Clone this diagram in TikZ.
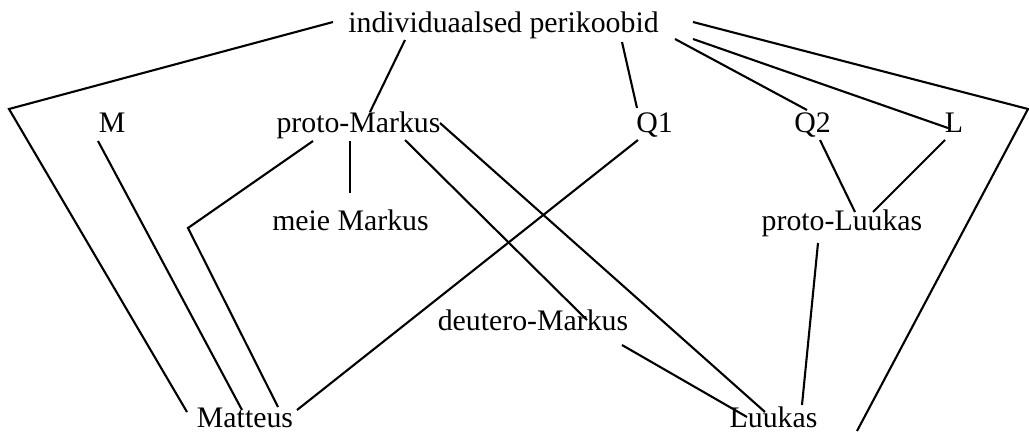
\documentclass[tikz,border=0pt]{standalone}
\usepackage{fontspec}
\setmainfont{Liberation Serif}
\begin{document}
\begin{tikzpicture}[x=1pt,y=-1pt,
  lbl/.style={anchor=base,inner sep=0pt,font=\fontsize{29.8}{36}\selectfont},
  conn/.style={line width=2.1pt,line join=miter}]
\useasboundingbox (0,0) rectangle (1029,432);
\node[lbl] (ind) at (503.5,32) {individuaalsed perikoobid};
\node[lbl] (M) at (112,132) {M};
\node[lbl] (pM) at (358.5,132) {proto-Markus};
\node[lbl] (Q1) at (654.5,132) {Q1};
\node[lbl] (Q2) at (812.5,132) {Q2};
\node[lbl] (Lq) at (954,132) {L};
\node[lbl] (mM) at (350.5,230) {meie Markus};
\node[lbl] (pL) at (842,230) {proto-Luukas};
\node[lbl] (dM) at (533,330) {deutero-Markus};
\node[lbl] (Mt) at (245,427) {Matteus};
\node[lbl] (Lk) at (773.5,427) {Luukas};
\coordinate (lc) at (9,109);
\coordinate (rc) at (1028,109);
\coordinate (mc) at (188,228);
% connectors
\draw[conn] ([shift={(-170.5,-10)}]ind.base) -- (lc) -- ([shift={(-58,-15)}]Mt.base);
\draw[conn] ([shift={(-14,9)}]M.base) -- ([shift={(-3,-17)}]Mt.base);
\draw[conn] ([shift={(-45.5,9)}]pM.base) -- (mc) -- ([shift={(33,-20)}]Mt.base);
\draw[conn] ([shift={(-16.5,8)}]Q1.base) -- ([shift={(52,-17)}]Mt.base);
\draw[conn] ([shift={(-98.5,8)}]ind.base) -- ([shift={(11.5,-20)}]pM.base);
\draw[conn] ([shift={(118.5,10)}]ind.base) -- ([shift={(-17.5,-24)}]Q1.base);
\draw[conn] ([shift={(189.5,-10)}]ind.base) -- (rc) -- ([shift={(83.5,4)}]Lk.base);
\draw[conn] ([shift={(189.5,7)}]ind.base) -- ([shift={(-6,-4)}]Lq.base);
\draw[conn] ([shift={(171.5,7)}]ind.base) -- ([shift={(-5.5,-22)}]Q2.base);
\draw[conn] ([shift={(-8.5,9)}]pM.base) -- ([shift={(-0.5,-37)}]mM.base);
\draw[conn] ([shift={(81.5,-9)}]pM.base) -- ([shift={(-8.5,-15)}]Lk.base);
\draw[conn] ([shift={(46.5,8)}]pM.base) -- ([shift={(54,-10)}]dM.base);
\draw[conn] ([shift={(89,15)}]dM.base) -- ([shift={(-26.5,-10)}]Lk.base);
\draw[conn] ([shift={(-24,13)}]pL.base) -- ([shift={(28.5,-22)}]Lk.base);
\draw[conn] ([shift={(7.5,8)}]Q2.base) -- ([shift={(13,-18)}]pL.base);
\draw[conn] ([shift={(-9,8)}]Lq.base) -- ([shift={(31,-18)}]pL.base);
\end{tikzpicture}
\end{document}
